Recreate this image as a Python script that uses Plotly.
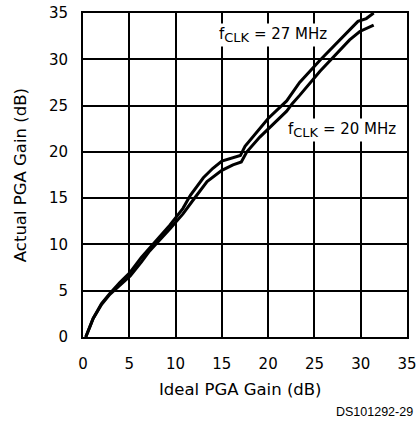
import plotly.graph_objects as go

# Ideal PGA gain (dB) vs actual PGA gain (dB)
ideal_27 = [0.3, 1.1, 2.0, 2.9, 4.0, 5.1, 6.3, 7.2, 9.4, 10.8, 11.6, 13.0, 14.0, 15.0, 16.2, 17.0, 17.5,
            18.8, 20.0, 22.0, 22.6, 23.4, 25.6, 28.8, 29.7, 30.6, 31.4]
actual_27 = [0.0, 2.0, 3.6, 4.7, 5.9, 7.0, 8.6, 9.6, 12.1, 13.9, 15.3, 17.2, 18.2, 19.0, 19.4, 19.6, 20.6,
             22.2, 23.6, 25.5, 26.4, 27.5, 29.9, 33.2, 34.1, 34.4, 35.0]

ideal_20 = [0.3, 1.1, 2.0, 2.9, 4.0, 5.1, 6.3, 7.2, 9.4, 10.8, 11.9, 13.4, 15.0, 16.2, 17.1, 17.7, 19.1,
            22.0, 22.6, 23.4, 25.6, 28.8, 29.9, 31.4]
actual_20 = [0.0, 2.0, 3.5, 4.6, 5.6, 6.6, 8.1, 9.3, 11.7, 13.3, 14.8, 16.8, 18.0, 18.6, 18.9, 20.0, 21.6,
             24.4, 25.2, 26.1, 28.7, 32.1, 33.0, 33.7]

ticks = [0, 5, 10, 15, 20, 25, 30, 35]
tick_text = [str(t) for t in ticks]

FONT = "DejaVu Sans"

fig = go.Figure()
fig.add_trace(go.Scatter(x=ideal_27, y=actual_27, mode="lines",
                         line=dict(color="black", width=3), name="27 MHz"))
fig.add_trace(go.Scatter(x=ideal_20, y=actual_20, mode="lines",
                         line=dict(color="black", width=3), name="20 MHz"))

axis_common = dict(
    range=[0, 35], tickvals=ticks, ticktext=tick_text,
    showgrid=True, gridcolor="black", gridwidth=1.5,
    showline=True, linecolor="black", linewidth=2, mirror=True,
    zeroline=False, ticks="", automargin=False,
    tickfont=dict(family=FONT, size=15, color="black"),
)

fig.update_xaxes(**axis_common, ticklabelstandoff=12)
fig.update_yaxes(**axis_common, ticklabelstandoff=10)

sub = "<sub><span style='font-size:13px'>CLK</span></sub>"

fig.update_layout(
    width=417, height=423,
    margin=dict(l=83, r=10, t=13, b=86, autoexpand=False),
    paper_bgcolor="white", plot_bgcolor="white",
    showlegend=False,
    font=dict(family=FONT, color="black"),
    annotations=[
        dict(text="f" + sub + " = 27 MHz", x=20.5, y=32.6, xref="x", yref="y",
             showarrow=False, bgcolor="white", font=dict(family=FONT, size=15, color="black"),
             borderpad=1),
        dict(text="f" + sub + " = 20 MHz", x=28.0, y=22.4, xref="x", yref="y",
             showarrow=False, bgcolor="white", font=dict(family=FONT, size=15, color="black"),
             borderpad=1),
        dict(text="Ideal PGA Gain (dB)", x=0.485, y=-0.163, xref="paper", yref="paper",
             xanchor="center", yanchor="middle", showarrow=False,
             font=dict(family=FONT, size=16.5, color="black")),
        dict(text="Actual PGA Gain (dB)", x=-0.194, y=0.5, xref="paper", yref="paper",
             xanchor="center", yanchor="middle", showarrow=False, textangle=-90,
             font=dict(family=FONT, size=16.5, color="black")),
        dict(text="DS101292-29", x=1.025, y=-0.2315, xref="paper", yref="paper",
             xanchor="right", yanchor="middle", showarrow=False,
             font=dict(family="Liberation Sans", size=12.5, color="black")),
    ],
)

fig.write_html("out.html", config={"displayModeBar": False},
               post_script="document.body.style.margin='0';document.body.style.overflow='hidden';")
